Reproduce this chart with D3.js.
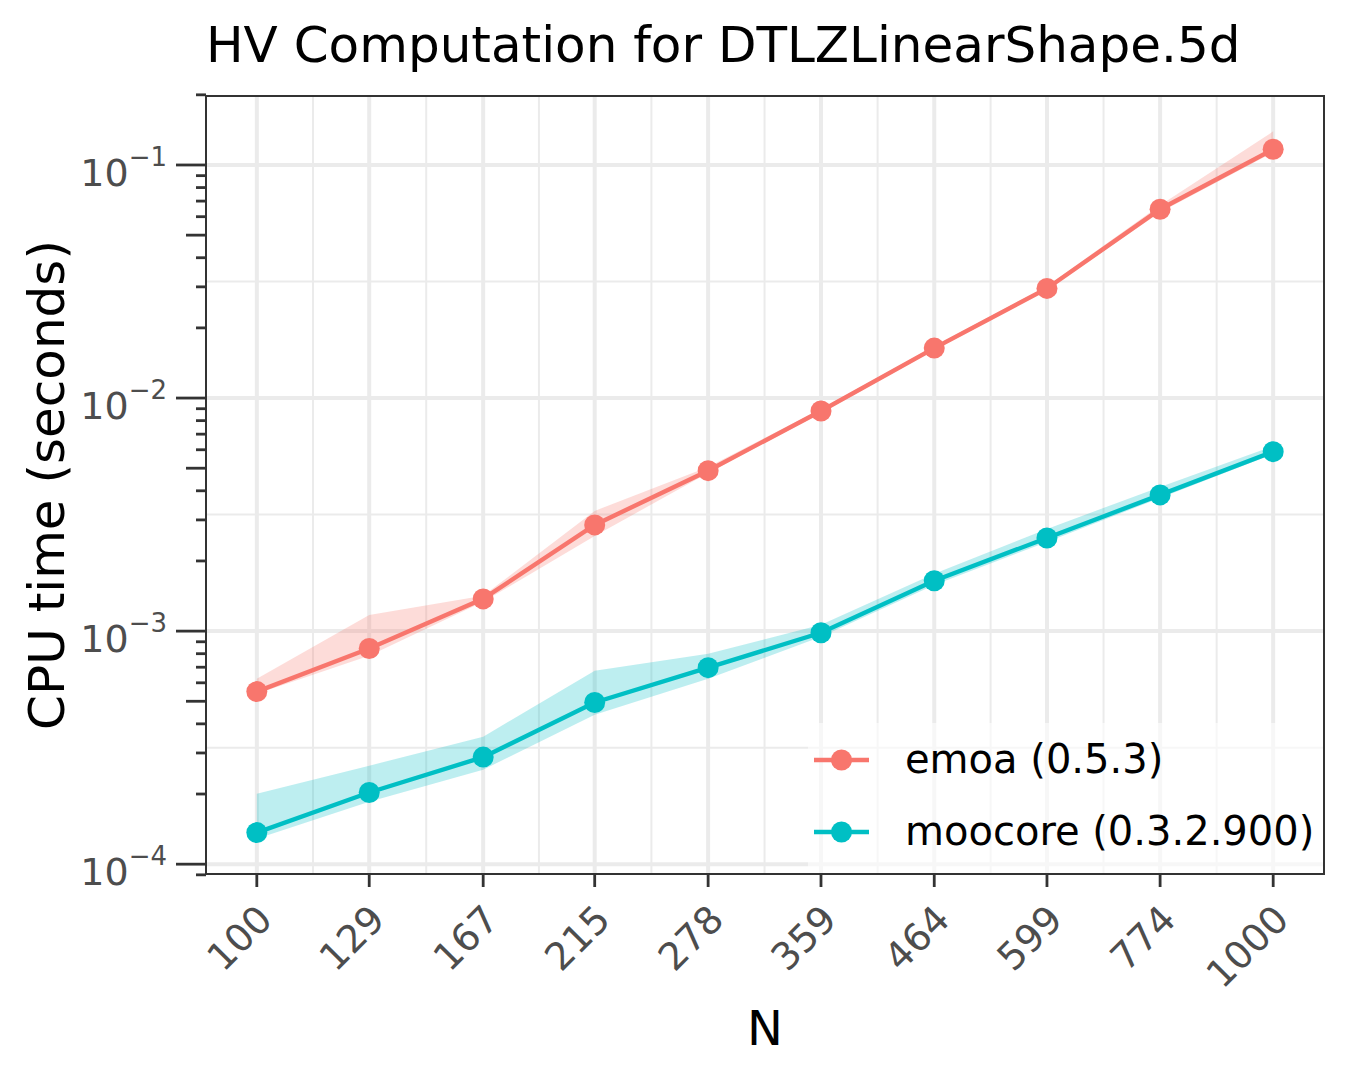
<!DOCTYPE html>
<html><head><meta charset="utf-8">
<script src="https://cdn.jsdelivr.net/npm/d3@7"></script>
<style>html,body{margin:0;padding:0;background:#fff;} svg{display:block;font-family:"DejaVu Sans",sans-serif;}</style>
</head><body><svg id="chart" width="1350" height="1080"></svg>
<script>
// ---- data ----
const N = [100, 129, 167, 215, 278, 359, 464, 599, 774, 1000];
const seriesNames = ["emoa (0.5.3)", "moocore (0.3.2.900)"];
const seriesColors = ["#F8766D", "#00BFC4"];
const emoaMedian = [5.50e-4, 8.42e-4, 1.375e-3, 2.855e-3, 4.88e-3, 8.80e-3, 0.01638, 0.02953, 0.0646, 0.1168];
const emoaLow    = [5.38e-4, 7.83e-4, 1.335e-3, 2.56e-3, 4.77e-3, 8.62e-3, 0.01606, 0.02904, 0.0627, 0.1134];
const emoaHigh   = [6.25e-4, 1.174e-3, 1.417e-3, 3.28e-3, 5.06e-3, 8.97e-3, 0.0167, 0.0302, 0.0672, 0.1394];
const moocoreMedian = [1.366e-4, 2.03e-4, 2.88e-4, 4.94e-4, 6.97e-4, 9.84e-4, 1.644e-3, 2.51e-3, 3.84e-3, 5.89e-3];
const moocoreLow    = [1.287e-4, 1.855e-4, 2.543e-4, 4.38e-4, 6.25e-4, 9.45e-4, 1.579e-3, 2.414e-3, 3.726e-3, 5.75e-3];
const moocoreHigh   = [2.007e-4, 2.646e-4, 3.523e-4, 6.76e-4, 7.99e-4, 1.064e-3, 1.761e-3, 2.745e-3, 4.154e-3, 6.22e-3];
const yBreakExponents = [-4, -3, -2, -1];
const titleText = "HV Computation for DTLZLinearShape.5d";
const xTitle = "N";
const yTitle = "CPU time (seconds)";

// ---- layout ----
const W = 1350, H = 1080;
const panel = {left: 206, right: 1324, top: 96, bottom: 874};
const svg = d3.select("#chart");
svg.append("rect").attr("width", W).attr("height", H).attr("fill", "#fff");

const series = [
  {name: seriesNames[0], color: seriesColors[0], med: emoaMedian, lo: emoaLow, hi: emoaHigh},
  {name: seriesNames[1], color: seriesColors[1], med: moocoreMedian, lo: moocoreLow, hi: moocoreHigh}
];

// ggplot-like 5% expansion in log space
const lx = [Math.log10(d3.min(N)), Math.log10(d3.max(N))];
const ex = (lx[1] - lx[0]) * 0.05;
const x = d3.scaleLog().domain([Math.pow(10, lx[0] - ex), Math.pow(10, lx[1] + ex)]).range([panel.left, panel.right]);
const allY = emoaLow.concat(emoaHigh, moocoreLow, moocoreHigh, emoaMedian, moocoreMedian);
const ly = [Math.log10(d3.min(allY)), Math.log10(d3.max(allY))];
const ey = (ly[1] - ly[0]) * 0.05;
const y = d3.scaleLog().domain([Math.pow(10, ly[0] - ey), Math.pow(10, ly[1] + ey)]).range([panel.bottom, panel.top]);

const g = svg.append("g");
g.append("rect").attr("x", panel.left).attr("y", panel.top)
  .attr("width", panel.right - panel.left).attr("height", panel.bottom - panel.top).attr("fill", "#fff");

// minor grid
const lxs = N.map(n => Math.log10(n));
const xMinor = [];
for (let i = 0; i < lxs.length - 1; i++) xMinor.push(Math.pow(10, (lxs[i] + lxs[i + 1]) / 2));
const yMinor = [];
for (let i = 0; i < yBreakExponents.length - 1; i++) yMinor.push(Math.pow(10, (yBreakExponents[i] + yBreakExponents[i + 1]) / 2));
const gridC = "#EBEBEB";
g.selectAll(".xminor").data(xMinor).join("line")
  .attr("x1", d => x(d)).attr("x2", d => x(d)).attr("y1", panel.top).attr("y2", panel.bottom)
  .attr("stroke", gridC).attr("stroke-width", 2);
g.selectAll(".yminor").data(yMinor).join("line")
  .attr("y1", d => y(d)).attr("y2", d => y(d)).attr("x1", panel.left).attr("x2", panel.right)
  .attr("stroke", gridC).attr("stroke-width", 2);
// major grid
g.selectAll(".xmajor").data(N).join("line")
  .attr("x1", d => x(d)).attr("x2", d => x(d)).attr("y1", panel.top).attr("y2", panel.bottom)
  .attr("stroke", gridC).attr("stroke-width", 4);
const yBreaks = yBreakExponents.map(e => Math.pow(10, e));
g.selectAll(".ymajor").data(yBreaks).join("line")
  .attr("y1", d => y(d)).attr("y2", d => y(d)).attr("x1", panel.left).attr("x2", panel.right)
  .attr("stroke", gridC).attr("stroke-width", 4);

// ribbons, lines, points
const area = d3.area().x(d => x(d.n)).y0(d => y(d.lo)).y1(d => y(d.hi));
const line = d3.line().x(d => x(d.n)).y(d => y(d.v));
series.forEach(s => {
  const pts = N.map((n, i) => ({n: n, lo: s.lo[i], hi: s.hi[i]}));
  g.append("path").datum(pts).attr("d", area).attr("fill", s.color).attr("fill-opacity", 0.26);
});
series.forEach(s => {
  const pts = N.map((n, i) => ({n: n, v: s.med[i]}));
  g.append("path").datum(pts).attr("d", line).attr("fill", "none").attr("stroke", s.color).attr("stroke-width", 4.4);
  g.selectAll(null).data(pts).join("circle")
    .attr("cx", d => x(d.n)).attr("cy", d => y(d.v)).attr("r", 10.5).attr("fill", s.color);
});

// legend
const leg = {left: 808, top: 723};
g.append("rect").attr("x", leg.left).attr("y", leg.top)
  .attr("width", panel.right - leg.left).attr("height", panel.bottom - leg.top)
  .attr("fill", "#fff").attr("fill-opacity", 0.6);
series.forEach((s, i) => {
  const cy = 760 + i * 72;
  g.append("line").attr("x1", 814).attr("x2", 869).attr("y1", cy).attr("y2", cy)
    .attr("stroke", s.color).attr("stroke-width", 4.4);
  g.append("circle").attr("cx", 841.5).attr("cy", cy).attr("r", 10.5).attr("fill", s.color);
  g.append("text").attr("x", 905).attr("y", cy + 13).attr("font-size", 40).attr("fill", "#000").text(s.name);
});

// panel border
g.append("rect").attr("x", panel.left).attr("y", panel.top)
  .attr("width", panel.right - panel.left).attr("height", panel.bottom - panel.top)
  .attr("fill", "none").attr("stroke", "#333333").attr("stroke-width", 2);

// y log ticks
const yTicks = [];
for (let e = -5; e <= 0; e++) for (let m = 1; m <= 9; m++) {
  const v = m * Math.pow(10, e);
  const py = y(v);
  if (py >= panel.top - 2 && py <= panel.bottom + 2) yTicks.push({v: v, m: m});
}
g.selectAll(".ytick").data(yTicks).join("line")
  .attr("x1", d => panel.left - (d.m === 1 ? 30 : d.m === 5 ? 20 : 10)).attr("x2", panel.left)
  .attr("y1", d => y(d.v)).attr("y2", d => y(d.v))
  .attr("stroke", "#333333").attr("stroke-width", 2.8);

// y tick labels
yBreakExponents.forEach(e => {
  const py = y(Math.pow(10, e));
  const t = g.append("text").attr("x", 167).attr("y", py + 21).attr("text-anchor", "end")
    .attr("fill", "#4D4D4D").attr("font-size", 38);
  t.append("tspan").text("10");
  t.append("tspan").attr("dy", -20).attr("font-size", 26).text("\u2212" + Math.abs(e));
});

// x ticks
g.selectAll(".xtick").data(N).join("line")
  .attr("x1", d => x(d)).attr("x2", d => x(d)).attr("y1", panel.bottom).attr("y2", panel.bottom + 13)
  .attr("stroke", "#333333").attr("stroke-width", 2.8);
g.selectAll(".xlab").data(N).join("text")
  .attr("transform", d => `translate(${x(d) - 2},${panel.bottom + 28}) rotate(-45)`)
  .attr("text-anchor", "end").attr("dy", "0.73em")
  .attr("font-size", 38).attr("fill", "#4D4D4D").text(d => d);

// titles
svg.append("text").attr("x", panel.left).attr("y", 62).attr("font-size", 50).attr("fill", "#000").text(titleText);
svg.append("text").attr("x", (panel.left + panel.right) / 2).attr("y", 1045).attr("text-anchor", "middle")
  .attr("font-size", 48).attr("fill", "#000").text(xTitle);
svg.append("text").attr("transform", `translate(64,${(panel.top + panel.bottom) / 2}) rotate(-90)`)
  .attr("text-anchor", "middle").attr("font-size", 50).attr("fill", "#000").text(yTitle);
</script></body></html>
